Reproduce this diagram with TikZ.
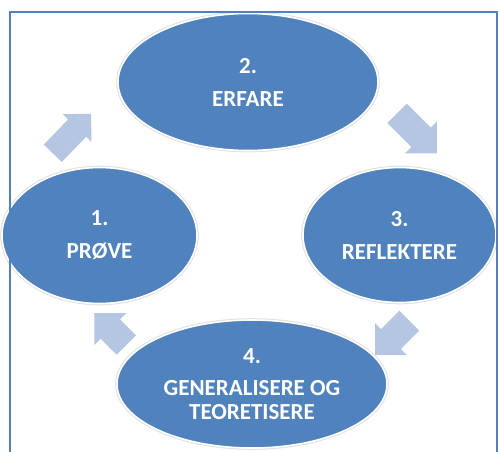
\documentclass[tikz,border=0pt]{standalone}
\usepackage{fontspec}
\setmainfont{Carlito}
\usetikzlibrary{shapes.geometric}
\definecolor{ellblue}{RGB}{80,130,190}
\definecolor{arrblue}{RGB}{180,198,226}
\definecolor{framblue}{RGB}{79,129,189}
\newcommand\blkarrow[6]{% x, y(px), angle, length, shaft width, head width
  \begin{scope}[shift={(#1,-#2)},rotate=#3]
    \fill[arrblue] (0,-#5/2) -- ({#4-#6/2},-#5/2) -- ({#4-#6/2},-#6/2) -- (#4,0)
      -- ({#4-#6/2},#6/2) -- ({#4-#6/2},#5/2) -- (0,#5/2) -- cycle;
  \end{scope}}
\tikzset{
  stage/.style={ellipse, fill=ellblue, draw=white, line width=1.6pt, inner sep=0pt,
    preaction={draw=black!12, line width=3.6pt},
    text=white, align=center, font=\bfseries\fontsize{23}{24}\selectfont},
}
\begin{document}
\begin{tikzpicture}[x=1pt,y=1pt]
\useasboundingbox (0,0) rectangle (498,-451);
% block arrows
\blkarrow{52.8}{153.3}{46}{55}{25}{40}
\blkarrow{397}{113.3}{-45}{56.5}{27.5}{45}
\blkarrow{409.3}{320.7}{225}{48.5}{28}{45}
\blkarrow{126.3}{345}{135}{45}{27.5}{45}
% stages
\node[stage, minimum width=260pt, minimum height=137pt] (erfare) at (248,-82) {2.\\[9pt]ERFARE};
\node[stage, minimum width=193pt, minimum height=135pt] (reflektere) at (399.5,-235) {3.\\[9pt]REFLEKTERE};
\node[stage, minimum width=195pt, minimum height=136pt] (prove) at (99.5,-235.5) {1.\\[9pt]PRØVE};
\node[stage, minimum width=270pt, minimum height=128pt] (general) at (252,-384) {4.\\[8pt]GENERALISERE OG\\TEORETISERE};
% frame
\draw[framblue, line width=2pt] (9.5,-460) -- (9.5,-12) -- (496.5,-12) -- (496.5,-460);
\end{tikzpicture}
\end{document}
